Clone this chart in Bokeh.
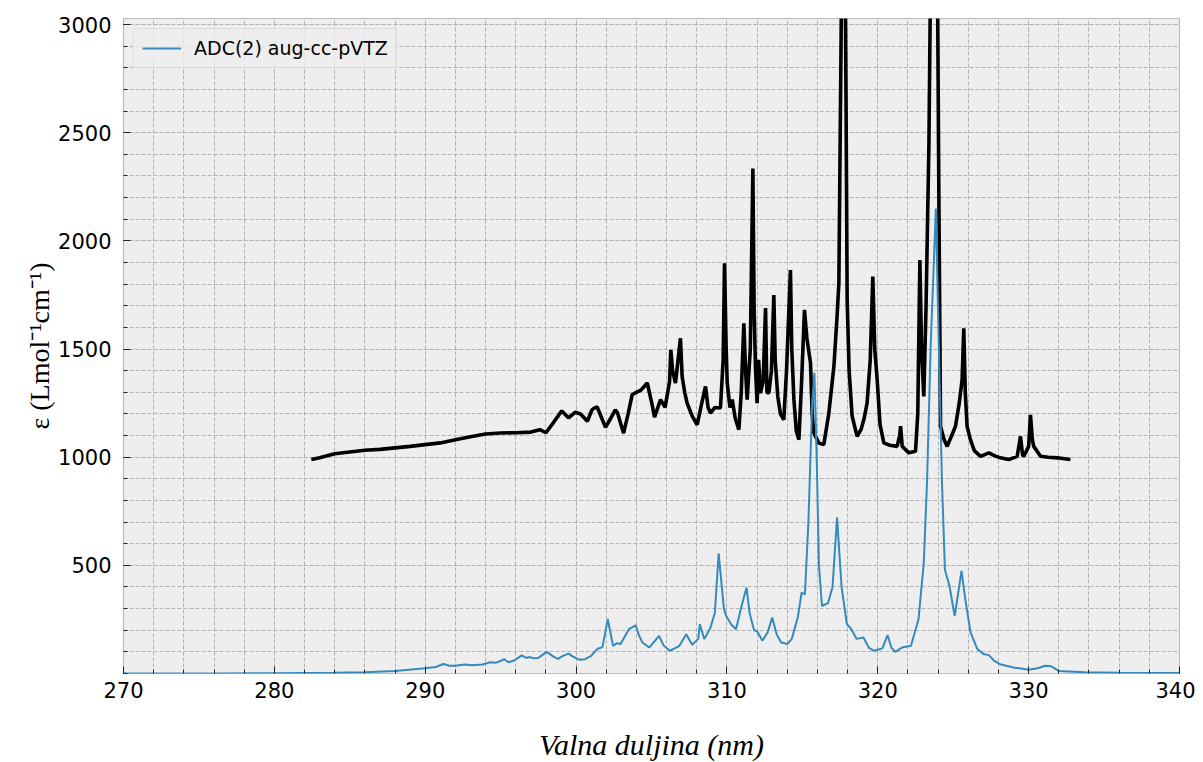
from bokeh.plotting import figure
from bokeh.models import Range1d, FixedTicker, Legend, LegendItem
from bokeh.embed import file_html
from bokeh.resources import INLINE

# ---- data ----
exp_nm = [282.45, 283.0, 284.0, 285.0, 286.0, 287.0, 288.0, 289.0, 290.0, 291.0,
          292.0, 293.0, 294.0, 295.0, 296.0, 297.0, 297.6, 298.0, 298.5, 299.05,
          299.5, 299.95, 300.3, 300.75, 301.05, 301.2, 301.4, 301.95, 302.3, 302.6,
          302.75, 303.15, 303.45, 303.72, 304.0, 304.3, 304.72, 305.04, 305.2, 305.6,
          305.9, 306.2, 306.28, 306.4, 306.59, 306.92, 307.03, 307.2, 307.36, 307.7,
          308.03, 308.3, 308.58, 308.75, 308.91, 309.2, 309.57, 309.75, 309.84, 309.95,
          310.02, 310.2, 310.35, 310.55, 310.79, 310.95, 311.12, 311.25, 311.34, 311.55,
          311.72, 311.8, 311.89, 312.0, 312.1, 312.22, 312.4, 312.56, 312.65, 312.78,
          312.95, 313.11, 313.2, 313.37, 313.55, 313.77, 313.95, 314.21, 314.3, 314.44,
          314.6, 314.77, 314.95, 315.14, 315.3, 315.54, 315.65, 315.76, 316.1, 316.42,
          316.75, 317.09, 317.3, 317.42, 317.55, 317.65, 317.8, 317.9, 317.97, 318.1,
          318.3, 318.63, 318.9, 319.1, 319.29, 319.5, 319.67, 319.8, 319.96, 320.15,
          320.4, 320.8, 321.28, 321.45, 321.51, 321.62, 322.06, 322.5, 322.65, 322.79,
          322.9, 323.05, 323.2, 323.39, 323.55, 323.8, 323.94, 324.05, 324.16, 324.4,
          324.6, 324.9, 325.15, 325.4, 325.59, 325.7, 325.8, 325.92, 326.14, 326.4,
          326.81, 327.36, 327.8, 328.13, 328.68, 329.24, 329.46, 329.6, 329.68, 330.0,
          330.12, 330.25, 330.34, 330.79, 331.3, 331.89, 332.77]
exp_eps = [989, 997, 1016, 1024, 1032, 1036, 1043, 1050, 1058, 1066,
           1081, 1094, 1107, 1112, 1113, 1116, 1127, 1113, 1160, 1214,
           1182, 1208, 1200, 1166, 1219, 1227, 1232, 1138, 1180, 1219,
           1204, 1111, 1200, 1289, 1300, 1310, 1343, 1243, 1185, 1266,
           1230, 1350, 1496, 1400, 1343, 1550, 1373, 1300, 1250, 1190,
           1150, 1240, 1327, 1230, 1204, 1230, 1227, 1450, 1896, 1500,
           1343, 1230, 1266, 1180, 1127, 1300, 1619, 1380, 1266, 1500,
           2334, 1700, 1419, 1250, 1450, 1296, 1350, 1689, 1300, 1296,
           1400, 1750, 1450, 1281, 1200, 1173, 1400, 1865, 1500, 1266,
           1120, 1081, 1350, 1681, 1550, 1435, 1200, 1111, 1065, 1058,
           1200, 1419, 1650, 1804, 2800, 3600, 3600, 2600, 1727, 1400,
           1189, 1096, 1130, 1180, 1250, 1450, 1835, 1500, 1358, 1150,
           1066, 1055, 1050, 1100, 1143, 1050, 1020, 1027, 1200, 1911,
           1500, 1281, 1700, 2450, 3600, 3600, 3400, 2200, 1143, 1080,
           1050, 1100, 1143, 1250, 1358, 1596, 1300, 1143, 1081, 1030,
           1004, 1020, 1005, 997, 989, 1004, 1096, 1010, 1004, 1050,
           1196, 1080, 1050, 1004, 1000, 997, 989]

adc_nm = [270, 276, 280, 284, 286, 288, 290, 290.7, 291.2, 291.6,
          292.0, 292.6, 293.1, 293.8, 294.3, 294.7, 295.0, 295.25, 295.5, 295.9,
          296.4, 296.7, 296.9, 297.2, 297.5, 298.05, 298.5, 298.8, 299.1, 299.5,
          299.8, 300.2, 300.6, 301.0, 301.4, 301.75, 302.1, 302.45, 302.7, 302.95,
          303.5, 303.95, 304.15, 304.4, 304.85, 305.5, 305.8, 306.2, 306.5, 306.85,
          307.3, 307.7, 308.1, 308.2, 308.5, 308.9, 309.2, 309.45, 309.8, 309.95,
          310.3, 310.6, 311.0, 311.3, 311.5, 311.8, 312.0, 312.35, 312.7, 313.0,
          313.3, 313.6, 314.0, 314.3, 314.7, 314.95, 315.17, 315.4, 315.65, 315.8,
          315.95, 316.1, 316.3, 316.7, 317.0, 317.3, 317.6, 317.95, 318.2, 318.6,
          319.05, 319.4, 319.75, 320.3, 320.65, 320.9, 321.15, 321.6, 322.2, 322.7,
          323.05, 323.27, 323.5, 323.85, 324.05, 324.25, 324.45, 324.75, 325.1, 325.55,
          325.8, 326.15, 326.6, 327.0, 327.36, 327.7, 328.1, 329.0, 330.0, 330.6,
          331.1, 331.5, 332.0, 333.7, 336.0, 340.0]
adc_eps = [0, 0, 1, 3, 6, 12, 24, 30, 44, 36,
           36, 42, 38, 42, 52, 50, 58, 66, 52, 60,
           84, 72, 76, 70, 72, 100, 78, 68, 80, 92,
           78, 64, 66, 82, 113, 122, 251, 128, 140, 136,
           205, 223, 180, 143, 120, 174, 130, 105, 115, 128,
           182, 133, 160, 228, 159, 210, 280, 555, 300, 266,
           225, 205, 320, 397, 280, 200, 195, 151, 190, 259,
           180, 143, 136, 160, 260, 374, 366, 700, 1250, 1390,
           1000, 500, 312, 325, 400, 722, 400, 228, 210, 160,
           166, 120, 105, 116, 177, 120, 100, 120, 128, 251,
           512, 897, 1500, 2150, 1500, 897, 480, 405, 266, 474,
           343, 190, 113, 90, 85, 60, 43, 28, 17, 24,
           36, 33, 12, 6, 3, 2]

x_major = [270, 280, 290, 300, 310, 320, 330, 340]
y_major = [500, 1000, 1500, 2000, 2500, 3000]
legend_label = "ADC(2) aug-cc-pVTZ"
x_title = "Valna duljina (nm)"
y_title = "\u03b5 (Lmol\u207b\u00b9cm\u207b\u00b9)"

p = figure(width=1195, height=762, output_backend="svg", toolbar_location=None,
           x_range=Range1d(270, 340), y_range=Range1d(0, 3028),
           min_border_left=123, min_border_right=16, min_border_top=18, min_border_bottom=89)
p.frame_width = 1056
p.frame_height = 655

p.background_fill_color = "#eeeeee"
p.border_fill_color = "white"
p.outline_line_color = "#bcbcbc"
p.outline_line_width = 1.2

# ticks
p.xaxis.ticker = FixedTicker(ticks=x_major, minor_ticks=list(range(270, 341, 2)))
p.yaxis.ticker = FixedTicker(ticks=y_major, minor_ticks=list(range(0, 3001, 100)))
for ax in (p.xaxis, p.yaxis):
    ax.axis_line_color = None
    ax.major_tick_in = 7
    ax.major_tick_out = 0
    ax.minor_tick_in = 4
    ax.minor_tick_out = 0
    ax.major_tick_line_color = "#222222"
    ax.minor_tick_line_color = "#222222"
    ax.major_label_text_font = "DejaVu Sans"
    ax.major_label_text_font_size = "21px"
    ax.major_label_text_color = "black"
    ax.axis_label_text_color = "black"
p.xaxis.major_label_standoff = 8
p.yaxis.major_label_standoff = 12

# grid
for g in (p.xgrid, p.ygrid):
    g.grid_line_color = "#b2b2b2"
    g.grid_line_dash = "4 2"
    g.grid_line_width = 1
    g.minor_grid_line_color = "#b2b2b2"
    g.minor_grid_line_dash = "4 2"
    g.minor_grid_line_width = 1

# axis labels
p.yaxis.axis_label = y_title
p.yaxis.axis_label_text_font = "Liberation Serif"
p.yaxis.axis_label_text_font_style = "normal"
p.yaxis.axis_label_text_font_size = "28px"
p.yaxis.axis_label_standoff = 0

p.xaxis.axis_label = x_title
p.xaxis.axis_label_text_font = "Liberation Serif"
p.xaxis.axis_label_text_font_style = "italic"
p.xaxis.axis_label_text_font_size = "30px"
p.xaxis.axis_label_standoff = 27

# lines
r_exp = p.line(exp_nm, exp_eps, line_color="black", line_width=3.6)
r_adc = p.line(adc_nm, adc_eps, line_color="#348ABD", line_width=2)

legend = Legend(items=[LegendItem(label=legend_label, renderers=[r_adc])],
                location="top_left")
legend.label_text_font = "DejaVu Sans"
legend.label_text_font_size = "19px"
legend.label_text_color = "black"
legend.background_fill_color = "#eeeeee"
legend.background_fill_alpha = 0.8
legend.border_line_color = "#cccccc"
legend.border_line_width = 1
legend.glyph_width = 39
legend.label_standoff = 13
legend.padding = 8
legend.margin = 10
legend.spacing = 0
p.add_layout(legend)

open("out.html", "w").write(file_html(p, INLINE))
